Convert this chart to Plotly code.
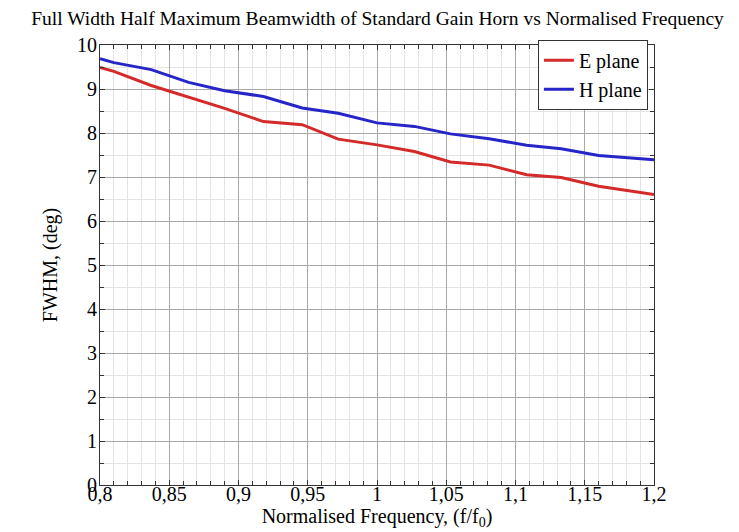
"""FWHM beamwidth of a standard gain horn against normalised frequency."""

import plotly.graph_objects as go

# normalised frequency (f/f0) and beamwidths in degrees
freq = [0.8, 0.81, 0.837, 0.864, 0.89, 0.918, 0.946, 0.972, 1.0,
        1.027, 1.053, 1.081, 1.108, 1.133, 1.16, 1.2]
e_plane = [9.49, 9.40, 9.08, 8.82, 8.56, 8.26, 8.19, 7.86, 7.73,
           7.58, 7.34, 7.27, 7.05, 6.99, 6.79, 6.60]
h_plane = [9.69, 9.60, 9.44, 9.15, 8.96, 8.83, 8.57, 8.45, 8.23,
           8.15, 7.98, 7.87, 7.72, 7.64, 7.49, 7.39]

FONT = "Liberation Serif, Times New Roman, Times, serif"

fig = go.Figure()
fig.add_trace(
    go.Scatter(
        x=freq,
        y=e_plane,
        name="E plane",
        mode="lines",
        line=dict(color="#d42a2a", width=3),
    )
)
fig.add_trace(
    go.Scatter(
        x=freq,
        y=h_plane,
        name="H plane",
        mode="lines",
        line=dict(color="#2626c8", width=3),
    )
)

axis_common = dict(
    showline=True,
    linecolor="#333333",
    linewidth=1,
    mirror="ticks",
    ticks="inside",
    ticklen=5,
    tickcolor="#333333",
    showgrid=True,
    gridcolor="#a8a8a8",
    gridwidth=1,
    zeroline=False,
    tickfont=dict(family=FONT, size=20, color="black"),
)

fig.update_xaxes(
    range=[0.8, 1.2],
    dtick=0.05,
    tick0=0.8,
    ticklabelstandoff=-9,
    minor=dict(dtick=0.01, ticks="inside", ticklen=4, tickcolor="#333333",
               showgrid=True, gridcolor="#e4e4e4", gridwidth=1),
    title=dict(text="Normalised Frequency, (f/f<sub>0</sub>)",
               font=dict(family=FONT, size=20, color="black"), standoff=0),
    **axis_common,
)
fig.update_yaxes(
    range=[0, 10],
    dtick=1,
    ticklabelstandoff=-2,
    minor=dict(dtick=0.5, ticks="inside", ticklen=4, tickcolor="#333333",
               showgrid=True, gridcolor="#e4e4e4", gridwidth=1),
    title=dict(text="FWHM, (deg)",
               font=dict(family=FONT, size=20, color="black"), standoff=14),
    **axis_common,
)

fig.update_layout(
    width=739,
    height=532,
    margin=dict(l=92, r=93, t=37, b=55),
    paper_bgcolor="white",
    plot_bgcolor="white",
    separators=", ",
    font=dict(family=FONT, size=20, color="black"),
    title=dict(
        text="Full Width Half Maximum Beamwidth of Standard Gain Horn vs Normalised Frequency",
        x=0.5,
        xanchor="center",
        y=0.993,
        yref="container",
        yanchor="top",
        pad=dict(t=0, b=0),
        font=dict(family=FONT, size=19.5, color="black"),
    ),
    legend=dict(
        x=0.989,
        y=1.012,
        xanchor="right",
        yanchor="top",
        bgcolor="white",
        bordercolor="#333333",
        borderwidth=1,
        font=dict(family=FONT, size=20, color="black"),
        tracegroupgap=0,
    ),
    showlegend=True,
)

fig.write_html("out.html")
